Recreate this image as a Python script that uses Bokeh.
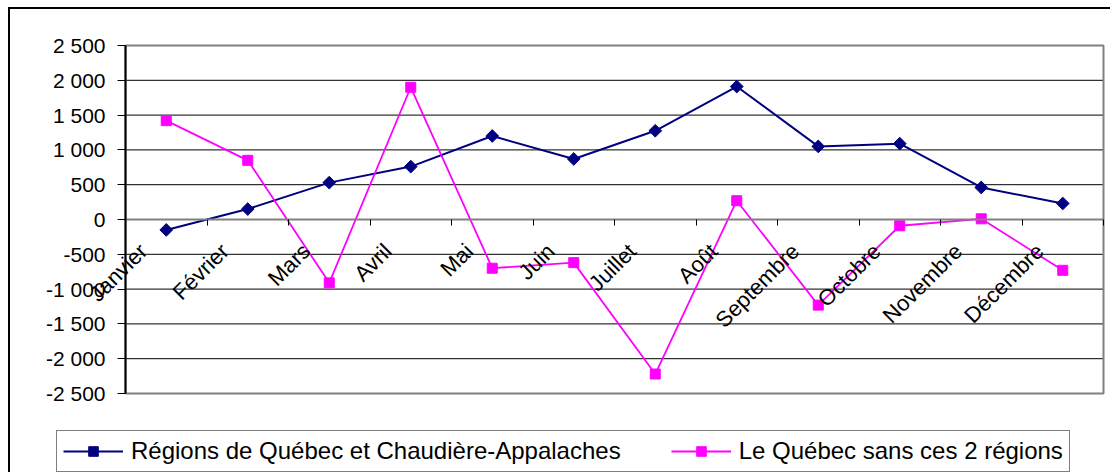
import math
from bokeh.plotting import figure
from bokeh.models import Range1d, FixedTicker, Legend, LegendItem, LinearAxis
from bokeh.embed import file_html
from bokeh.resources import INLINE

# ---------------- data ----------------
months = ["Janvier", "Février", "Mars", "Avril", "Mai", "Juin", "Juillet",
          "Août", "Septembre", "Octobre", "Novembre", "Décembre"]
regions_qc_ca = [-150, 150, 530, 760, 1200, 870, 1275, 1910, 1050, 1090, 460, 230]
quebec_sans = [1420, 850, -910, 1900, -700, -620, -2220, 270, -1230, -90, 10, -730]
series_names = ["Régions de Québec et Chaudière-Appalaches",
                "Le Québec sans ces 2 régions"]
y_ticks = [2500, 2000, 1500, 1000, 500, 0, -500, -1000, -1500, -2000, -2500]
y_tick_labels = ["2 500", "2 000", "1 500", "1 000", "500", "0", "-500",
                 "-1 000", "-1 500", "-2 000", "-2 500"]

# ---------------- layout constants (page pixels) ----------------
Y_MIN, Y_MAX = -2500, 2500
N = len(months)
CANVAS_L, CANVAS_T, CANVAS_R, CANVAS_B = 10, 9, 1112, 474
PLOT_L, PLOT_R, PLOT_T, PLOT_B = 125, 1103, 45, 393
W, H = CANVAS_R - CANVAS_L, CANVAS_B - CANVAS_T
ux = N / (PLOT_R - PLOT_L)                 # x units per pixel
uy = (Y_MAX - Y_MIN) / (PLOT_B - PLOT_T)   # y units per pixel
X_START = 0 - (PLOT_L - CANVAS_L) * ux
X_END = N + (CANVAS_R - PLOT_R) * ux
Y_END = Y_MAX + (PLOT_T - CANVAS_T) * uy
Y_START = Y_MIN - (CANVAS_B - PLOT_B) * uy

FONT = "Liberation Sans"
NAVY = "#000080"
MAGENTA = "#FF00FF"
GREY = "#808080"
LABEL_SHIFT = 0.28125  # rotated month labels end left of the category centre

p = figure(width=W, height=H, output_backend="svg", toolbar_location=None,
           x_range=Range1d(X_START, X_END), y_range=Range1d(Y_START, Y_END),
           x_axis_location=None, y_axis_location=None,
           min_border=0, min_border_left=0, min_border_right=0,
           min_border_top=0, min_border_bottom=0)
p.styles = {"margin-left": "8px", "margin-top": "7px",
            "border-left": "2px solid #000000", "border-top": "2px solid #000000"}
p.background_fill_color = "white"
p.border_fill_color = "white"
p.outline_line_color = None
p.xgrid.visible = False
p.ygrid.visible = False

# horizontal grid lines inside the plot area
inner = [t for t in y_ticks if Y_MIN < t < Y_MAX]
p.segment(x0=[0] * len(inner), x1=[N] * len(inner), y0=inner, y1=inner,
          line_color="black", line_width=1)
# plot-area border
p.quad(left=[0], right=[N], bottom=[Y_MIN], top=[Y_MAX],
       fill_color=None, line_color=GREY, line_width=2)

# y axis at x = 0
yaxis = LinearAxis(fixed_location=0, bounds=(Y_MIN, Y_MAX),
                   ticker=FixedTicker(ticks=y_ticks),
                   major_label_overrides={t: l for t, l in zip(y_ticks, y_tick_labels)},
                   major_tick_out=8, major_tick_in=0, minor_tick_out=0, minor_tick_in=0,
                   axis_line_color="black", axis_line_width=2,
                   major_tick_line_color="black",
                   major_label_text_font=FONT, major_label_text_font_size="21px",
                   major_label_text_color="black", major_label_standoff=12)
p.add_layout(yaxis, "left")

# category axis crossing at y = 0
xs = [i + 0.5 for i in range(N)]
bounds = list(range(N + 1))
label_pos = [x - LABEL_SHIFT for x in xs]
xaxis = LinearAxis(fixed_location=0, bounds=(0, N),
                   ticker=FixedTicker(ticks=label_pos, minor_ticks=bounds),
                   major_label_overrides={t: m for t, m in zip(label_pos, months)},
                   major_label_orientation=math.pi / 4,
                   axis_line_color=GREY, axis_line_width=2,
                   major_tick_out=0, major_tick_in=0,
                   minor_tick_out=6, minor_tick_in=0,
                   minor_tick_line_color="black", minor_tick_line_width=1,
                   major_label_standoff=22,
                   major_label_text_font=FONT, major_label_text_font_size="22px",
                   major_label_text_color="black")
p.add_layout(xaxis, "below")

# series
l1 = p.line(xs, regions_qc_ca, line_color=NAVY, line_width=2)
s1 = p.scatter(xs, regions_qc_ca, marker="square", angle=math.pi / 4, size=9,
               fill_color=NAVY, line_color=NAVY)
l2 = p.line(xs, quebec_sans, line_color=MAGENTA, line_width=1.8)
s2 = p.scatter(xs, quebec_sans, marker="square", size=10,
               fill_color=MAGENTA, line_color=MAGENTA)

# legend (bottom-left corner given in pixels from the canvas bottom-left)
legend = Legend(items=[LegendItem(label=series_names[0], renderers=[l1, s1]),
                       LegendItem(label=series_names[1], renderers=[l2, s2])],
                orientation="horizontal", location=(46, 2),
                label_text_font=FONT, label_text_font_size="24px",
                label_text_color="black",
                border_line_color="black", border_line_width=1,
                padding=6, spacing=50, glyph_width=60, glyph_height=24,
                label_height=24, label_standoff=8, margin=0,
                background_fill_color="white", background_fill_alpha=1)
p.add_layout(legend, "center")

open("out.html", "w").write(file_html(p, INLINE))
